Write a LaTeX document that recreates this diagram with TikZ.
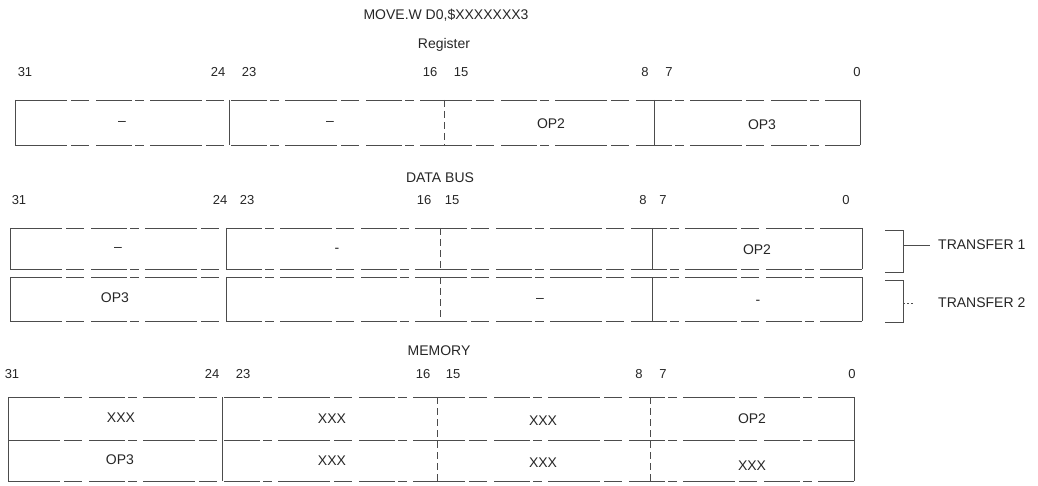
\documentclass[tikz,border=0pt]{standalone}
\usepackage{fontspec}
\setmainfont{Liberation Sans}
\usetikzlibrary{positioning}

\begin{document}
\begin{tikzpicture}[x=1pt, y=-1pt,
    every node/.style={font=\fontsize{14}{16}\selectfont, text=black!85, inner sep=0pt},
    bit/.style={font=\fontsize{13}{15}\selectfont},
    edge/.style={line width=0.9pt, draw=black!70},
    broken/.style={edge, dash pattern=on 52pt off 4pt on 18pt off 7pt on 36pt off 3pt on 9pt off 6pt},
    divdash/.style={edge, dash pattern=on 7pt off 4pt}]
      \useasboundingbox (0,0) rectangle (1038,486);
      % Title
      \node (title) at (446,15) {MOVE.W D0,\$XXXXXXX3};
      % Register
      \node (reglbl) at (444,45) {Register};
      \foreach \lbl/\xx in {31/25,24/218,23/249,16/430,15/461,8/645,7/669,0/857} {
        \node[bit] (rb\lbl) at (\xx,72) {\lbl};
      }
      \foreach \yy in {100,145} {
        \draw[broken] (15,\yy) -- (860,\yy);
      }
      \draw[edge] (15,100) -- (15,145);
      \draw[edge] (860,100) -- (860,145);
      \draw[edge] (229,100) -- (229,145);
      \draw[divdash] (444,100) -- (444,145);
      \draw[edge] (654,100) -- (654,145);
      \node (reg3) at (122,123) {--};
      \node (reg2) at (330,123) {--};
      \node (reg1) at (551,124) {OP2};
      \node (reg0) at (762,125) {OP3};
      % Data bus
      \node (buslbl) at (440,178) {DATA BUS};
      \foreach \lbl/\xx in {31/19,24/220,23/247,16/424,15/452,8/643,7/663,0/846} {
        \node[bit] (bb\lbl) at (\xx,200) {\lbl};
      }
      \foreach \top/\bot in {228/269,277/321} {
        \draw[broken] (10,\top) -- (862,\top);
        \draw[broken] (10,\bot) -- (862,\bot);
        \draw[edge] (10,\top) -- (10,\bot);
        \draw[edge] (862,\top) -- (862,\bot);
        \draw[edge] (226,\top) -- (226,\bot);
        \draw[divdash] (440,\top) -- (440,\bot);
        \draw[edge] (652,\top) -- (652,\bot);
      }
      \node (bus3a) at (118,249) {--};
      \node (bus2a) at (337,250) {-};
      \node (bus0a) at (757,250) {OP2};
      \node (bus3b) at (115,298) {OP3};
      \node (bus1b) at (540,300) {--};
      \node (bus0b) at (758,302) {-};
      % Transfer brackets
      \draw[edge] (885,230) -- (903,230) -- (903,272) -- (885,272);
      \draw[edge] (885,280) -- (903,280) -- (903,322) -- (885,322);
      \node[anchor=west] (tr1) at (938,245) {TRANSFER 1};
      \node[anchor=west] (tr2) at (938,303) {TRANSFER 2};
      \coordinate (br1) at (903,245);
      \coordinate (br2) at (903,303);
      \coordinate (tick2) at (914,303);
      \draw[edge] (br1) -- ([xshift=-8pt]tr1.west);
      \draw[edge, dash pattern=on 2pt off 2pt] (br2) -- (tick2);
      % Memory
      \node (memlbl) at (439,351) {MEMORY};
      \foreach \lbl/\xx in {31/12,24/212,23/243,16/423,15/453,8/639,7/663,0/852} {
        \node[bit] (mb\lbl) at (\xx,374) {\lbl};
      }
      \foreach \yy in {397,440,481} {
        \draw[broken] (8,\yy) -- (854,\yy);
      }
      \draw[edge] (8,397) -- (8,481);
      \draw[edge] (854,397) -- (854,481);
      \draw[edge] (222,397) -- (222,481);
      \draw[divdash] (437,397) -- (437,481);
      \draw[divdash] (650,397) -- (650,481);
      \node (mem3a) at (121,418) {XXX};
      \node (mem2a) at (332,419) {XXX};
      \node (mem1a) at (543,421) {XXX};
      \node (mem0a) at (752,419) {OP2};
      \node (mem3b) at (120,460) {OP3};
      \node (mem2b) at (332,461) {XXX};
      \node (mem1b) at (543,463) {XXX};
      \node (mem0b) at (752,466) {XXX};
\end{tikzpicture}
\end{document}
